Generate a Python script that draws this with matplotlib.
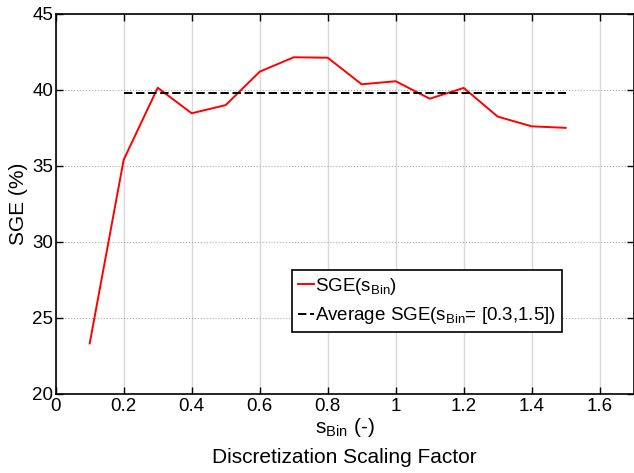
import matplotlib
matplotlib.use('Agg')
import matplotlib.pyplot as plt

plt.rcParams['font.family'] = ['Liberation Sans', 'DejaVu Sans']
plt.rcParams['mathtext.fontset'] = 'custom'
plt.rcParams['mathtext.rm'] = 'Liberation Sans'

# values
s_bin = [0.1, 0.2, 0.3, 0.4, 0.5, 0.6, 0.7, 0.8, 0.9, 1.0, 1.1, 1.2, 1.3, 1.4, 1.5]
sge = [23.3, 35.4, 40.14, 38.46, 39.0, 41.2, 42.15, 42.12, 40.37, 40.57, 39.42, 40.13, 38.24, 37.6, 37.5]
avg_x = [0.2, 1.5]
avg_sge = 39.78

xticks = [0, 0.2, 0.4, 0.6, 0.8, 1, 1.2, 1.4, 1.6]
xticklabels = ['0', '0.2', '0.4', '0.6', '0.8', '1', '1.2', '1.4', '1.6']
yticks = [20, 25, 30, 35, 40, 45]

fig = plt.figure(figsize=(6.34, 4.73), dpi=100)
ax = fig.add_axes([55.7 / 634, 1 - 393.5 / 473, 578 / 634, 379.5 / 473])

ax.plot(s_bin, sge, color='red', lw=1.4, label=r'SGE($\mathregular{s_{Bin}}$)')
ax.plot(avg_x, [avg_sge, avg_sge], color='black', lw=1.4, ls=(0, (4.3, 1.9)),
        label=r'Average SGE($\mathregular{s_{Bin}}$= [0.3,1.5])')

ax.set_xlim(0, 1.7)
ax.set_ylim(20, 45)
ax.set_xticks(xticks)
ax.set_xticklabels(xticklabels)
ax.set_yticks(yticks)
ax.tick_params(direction='in', top=True, right=True, length=5, width=1, labelsize=13.5)
ax.tick_params(axis='x', pad=3)
ax.tick_params(axis='y', pad=1.8)

ax.xaxis.grid(True, color='#d9d9d9', lw=1, ls='-')
ax.yaxis.grid(True, color='#aaaaaa', lw=0.8, ls=':')
ax.set_axisbelow(True)
for sp in ax.spines.values():
    sp.set_linewidth(1.2)

ax.set_xlabel('$\\mathregular{s_{Bin}}$ (-)', fontsize=15, labelpad=1)
fig.text(ax.get_position().x0 + ax.get_position().width / 2, 1 - 463 / 473,
         'Discretization Scaling Factor', fontsize=15, ha='center', va='baseline')
ax.set_ylabel('SGE (%)', fontsize=15, labelpad=3)

leg = ax.legend(loc='center', bbox_to_anchor=(427 / 634, 1 - 301 / 473), bbox_transform=fig.transFigure,
                fontsize=13.5, handlelength=0.85, handletextpad=0.08, borderpad=0.3, labelspacing=0.45,
                fancybox=False, framealpha=1, edgecolor='black', borderaxespad=0)
leg.get_frame().set_linewidth(1.2)

fig.savefig('out.png', dpi=100)
